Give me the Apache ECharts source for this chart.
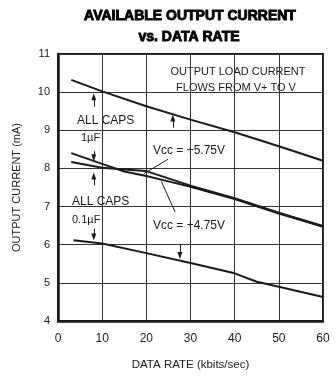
<!DOCTYPE html>
<html>
<head>
<meta charset="utf-8">
<script src="https://cdn.jsdelivr.net/npm/echarts@6/dist/echarts.min.js"></script>
<style>
  html, body { margin: 0; padding: 0; background: #fff; }
  #chart { width: 336px; height: 379px; }
</style>
</head>
<body>
<div id="chart"></div>
<script>
// Data rate (kbits/sec) and output current (mA) for each curve
const rateTop = [3, 10, 20, 30, 40, 50, 60];
const currTop = [10.32, 10.02, 9.63, 9.28, 8.95, 8.58, 8.2];

const rateMidA = [3, 10, 15, 20, 25, 30, 40, 50, 60];
const currMidA = [8.4, 8.12, 7.92, 7.8, 7.66, 7.52, 7.2, 6.82, 6.47];

const rateMidB = [3, 10, 15, 20, 25, 30, 40, 50, 60];
const currMidB = [8.17, 8.02, 7.97, 7.93, 7.74, 7.55, 7.22, 6.84, 6.49];

const rateBot = [3.5, 10, 20, 30, 40, 45, 50, 60];
const currBot = [6.12, 6.03, 5.78, 5.52, 5.25, 5.03, 4.9, 4.63];

// Axis ticks
const xTicks = [0, 10, 20, 30, 40, 50, 60];
const yTicks = [4, 5, 6, 7, 8, 9, 10, 11];

// Callout arrows and leader lines, in data units: [x1, y1, x2, y2] (arrowhead at the second end)
const arrows = [
  [8.1, 9.62, 8.1, 9.88],
  [8.1, 8.45, 8.1, 8.28],
  [8.1, 7.56, 8.1, 7.8],
  [8.1, 6.42, 8.1, 6.2],
  [26, 9.07, 26, 9.32],
  [27.6, 6.02, 27.6, 5.72]
];
const leaders = [
  [24.9, 8.24, 19.4, 7.86],
  [23.4, 7.66, 26.5, 6.86]
];

const FONT = '"Liberation Sans", Arial, sans-serif';
const INK = '#1a1a1a';

const pairs = (xs, ys) => xs.map((x, i) => [x, ys[i]]);

const chart = echarts.init(document.getElementById('chart'), null, { renderer: 'canvas' });

const curveStyle = { color: INK, width: 2 };

const markLines = arrows.map(a => [
  { coord: [a[0], a[1]], symbol: 'none' },
  { coord: [a[2], a[3]], symbol: 'triangle', symbolSize: [5, 7] }
]).concat(leaders.map(l => [
  { coord: [l[0], l[1]], symbol: 'none' },
  { coord: [l[2], l[3]], symbol: 'none' }
]));

chart.setOption({
  animation: false,
  grid: {
    left: 58, right: 13, top: 54, bottom: 58,
    show: true, borderColor: INK, borderWidth: 2, backgroundColor: 'transparent'
  },
  xAxis: {
    type: 'value', min: xTicks[0], max: xTicks[xTicks.length - 1], interval: 10,
    name: 'DATA RATE (kbits/sec)', nameLocation: 'middle', nameGap: 38,
    nameTextStyle: { fontFamily: FONT, fontSize: 11.5, color: INK },
    axisLine: { show: true, lineStyle: { color: INK, width: 2.5 } },
    axisTick: { show: false },
    axisLabel: { fontFamily: FONT, fontSize: 12, color: INK, margin: 12 },
    splitLine: { show: true, lineStyle: { color: '#333', width: 1 } }
  },
  yAxis: {
    type: 'value', min: yTicks[0], max: yTicks[yTicks.length - 1], interval: 1,
    name: 'OUTPUT CURRENT (mA)', nameLocation: 'middle', nameGap: 36,
    nameTextStyle: { fontFamily: FONT, fontSize: 11, color: INK },
    axisLine: { show: true, lineStyle: { color: INK, width: 2.5 } },
    axisTick: { show: false },
    axisLabel: { fontFamily: FONT, fontSize: 11, color: INK, margin: 8 },
    splitLine: { show: true, lineStyle: { color: '#333', width: 1 } }
  },
  series: [
    { type: 'line', data: pairs(rateTop, currTop), showSymbol: false, lineStyle: curveStyle, z: 5,
      markLine: {
        silent: true, animation: false, label: { show: false },
        lineStyle: { color: INK, width: 1, type: 'solid' },
        data: markLines
      }
    },
    { type: 'line', data: pairs(rateMidA, currMidA), showSymbol: false, lineStyle: curveStyle, z: 5 },
    { type: 'line', data: pairs(rateMidB, currMidB), showSymbol: false, lineStyle: curveStyle, z: 5 },
    { type: 'line', data: pairs(rateBot, currBot), showSymbol: false, lineStyle: curveStyle, z: 5 }
  ],
  graphic: [
    { type: 'text', x: 190, y: 16, style: {
        text: 'AVAILABLE OUTPUT CURRENT', align: 'center', verticalAlign: 'middle',
        font: 'bold 14px ' + FONT, fill: '#000', stroke: '#000', lineWidth: 0.9 } },
    { type: 'text', x: 189, y: 37, style: {
        text: 'vs. DATA RATE', align: 'center', verticalAlign: 'middle',
        font: 'bold 14px ' + FONT, fill: '#000', stroke: '#000', lineWidth: 0.9 } },
    { type: 'text', x: 238, y: 72, style: {
        text: 'OUTPUT LOAD CURRENT', align: 'center', verticalAlign: 'middle',
        font: '11px ' + FONT, fill: INK } },
    { type: 'text', x: 236, y: 88, style: {
        text: 'FLOWS FROM V+ TO V', align: 'center', verticalAlign: 'middle',
        font: '11px ' + FONT, fill: INK } },
    { type: 'text', x: 77, y: 121, style: {
        text: 'ALL CAPS', align: 'left', verticalAlign: 'middle',
        font: '12px ' + FONT, fill: INK } },
    { type: 'text', x: 81, y: 138, style: {
        text: '1µF', align: 'left', verticalAlign: 'middle',
        font: '11px ' + FONT, fill: INK } },
    { type: 'text', x: 72, y: 202, style: {
        text: 'ALL CAPS', align: 'left', verticalAlign: 'middle',
        font: '12px ' + FONT, fill: INK } },
    { type: 'text', x: 72, y: 220, style: {
        text: '0.1µF', align: 'left', verticalAlign: 'middle',
        font: '11px ' + FONT, fill: INK } },
    { type: 'text', x: 153, y: 151, style: {
        text: 'Vcc = +5.75V', align: 'left', verticalAlign: 'middle',
        font: '12px ' + FONT, fill: INK } },
    { type: 'text', x: 153, y: 226, style: {
        text: 'Vcc = +4.75V', align: 'left', verticalAlign: 'middle',
        font: '12px ' + FONT, fill: INK } }
  ]
});
</script>
</body>
</html>
